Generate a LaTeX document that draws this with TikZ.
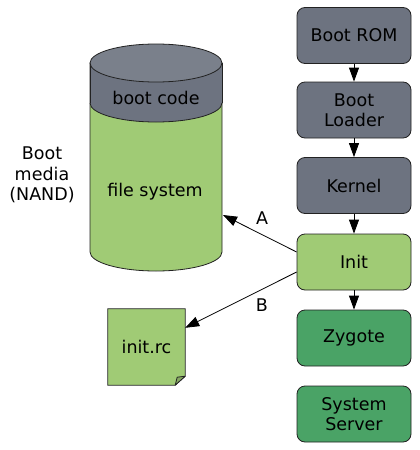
\documentclass[tikz,border=0pt]{standalone}
\usepackage{fontspec}
\setmainfont{DejaVu Sans}
\usetikzlibrary{arrows.meta,calc}
\definecolor{boxgray}{HTML}{6D7380}
\definecolor{topgray}{HTML}{7A808B}
\definecolor{lightgreen}{HTML}{A0CB75}
\definecolor{darkgreen}{HTML}{4AA366}
\definecolor{foldgreen}{HTML}{86A862}
\definecolor{edge}{HTML}{222222}
\tikzset{
  stage/.style={draw=edge, line width=0.8pt, rounded corners=8pt, minimum width=114pt, minimum height=56pt, align=center, inner sep=0pt, font=\fontsize{17.5}{20.5}\selectfont},
  graybox/.style={stage, fill=boxgray},
  greenbox/.style={stage, fill=lightgreen},
  darkbox/.style={stage, fill=darkgreen},
  flow/.style={draw=black, line width=0.8pt, -{Triangle[length=14pt,width=10pt]}},
  lbl/.style={font=\fontsize{17.5}{20.5}\selectfont, align=center, inner sep=0pt},
  outline/.style={draw=edge, line width=0.8pt}
}
\begin{document}
\begin{tikzpicture}[x=1pt,y=-1pt]
\useasboundingbox (0,0) rectangle (420,450);
% cylinder body
\path[outline, fill=lightgreen] (90,63) -- (90,252) arc[start angle=180, end angle=360, x radius=66pt, y radius=19pt] -- (222,63) -- cycle;
% boot code band
\path[fill=boxgray] (90,63) -- (90,103) arc[start angle=180, end angle=360, x radius=66pt, y radius=19pt] -- (222,63) -- cycle;
\draw[outline] (90,63) -- (90,103);
\draw[outline] (222,63) -- (222,103);
\draw[outline] (90,103) arc[start angle=180, end angle=360, x radius=66pt, y radius=19pt];
% top ellipse
\path[outline, fill=topgray] (156,63) ellipse[x radius=66pt, y radius=19pt];
\node[lbl] (bootcode) at (156,98) {boot code};
\node[lbl] (filesys) at (155,192) {file system};
\node[lbl] (media) at (42,175) {Boot\\media\\(NAND)};
\coordinate (aend) at (223,215);
% init.rc note
\node[lbl, minimum width=77pt, minimum height=76pt] (initrc) at (146.5,347) {init.rc};
\path[outline, fill=lightgreen] (initrc.north west) -- (initrc.north east) -- ($(initrc.south east)+(0,-9)$) -- ($(initrc.south east)+(-10,0)$) -- (initrc.south west) -- cycle;
\path[outline, fill=foldgreen, line join=round] ($(initrc.south east)+(0,-9)$) -- ($(initrc.south east)+(-8,-8)$) -- ($(initrc.south east)+(-10,0)$) -- cycle;
\node[lbl] at (initrc) {init.rc};
\coordinate (bend) at ($(initrc.north east)+(0,19)$);
% stages
\node[graybox] (rom) at (354,35.5) {Boot ROM};
\node[graybox] (loader) at (354,110) {Boot\\Loader};
\node[graybox] (kernel) at (354,185.5) {Kernel};
\node[greenbox] (init) at (354,262) {Init};
\node[darkbox] (zygote) at (354,338) {Zygote};
\node[darkbox] (server) at (354,414) {System\\Server};
\draw[flow] (rom) -- (loader);
\draw[flow] (loader) -- (kernel);
\draw[flow] (kernel) -- (init);
\draw[flow] (init) -- (zygote);
\draw[flow] ($(init.west)+(0,-10)$) -- (aend);
\draw[flow] ($(init.west)+(0,10)$) -- (bend);
\node[lbl] (la) at (262,218) {A};
\node[lbl] (lb) at (262,305) {B};
\end{tikzpicture}
\end{document}
